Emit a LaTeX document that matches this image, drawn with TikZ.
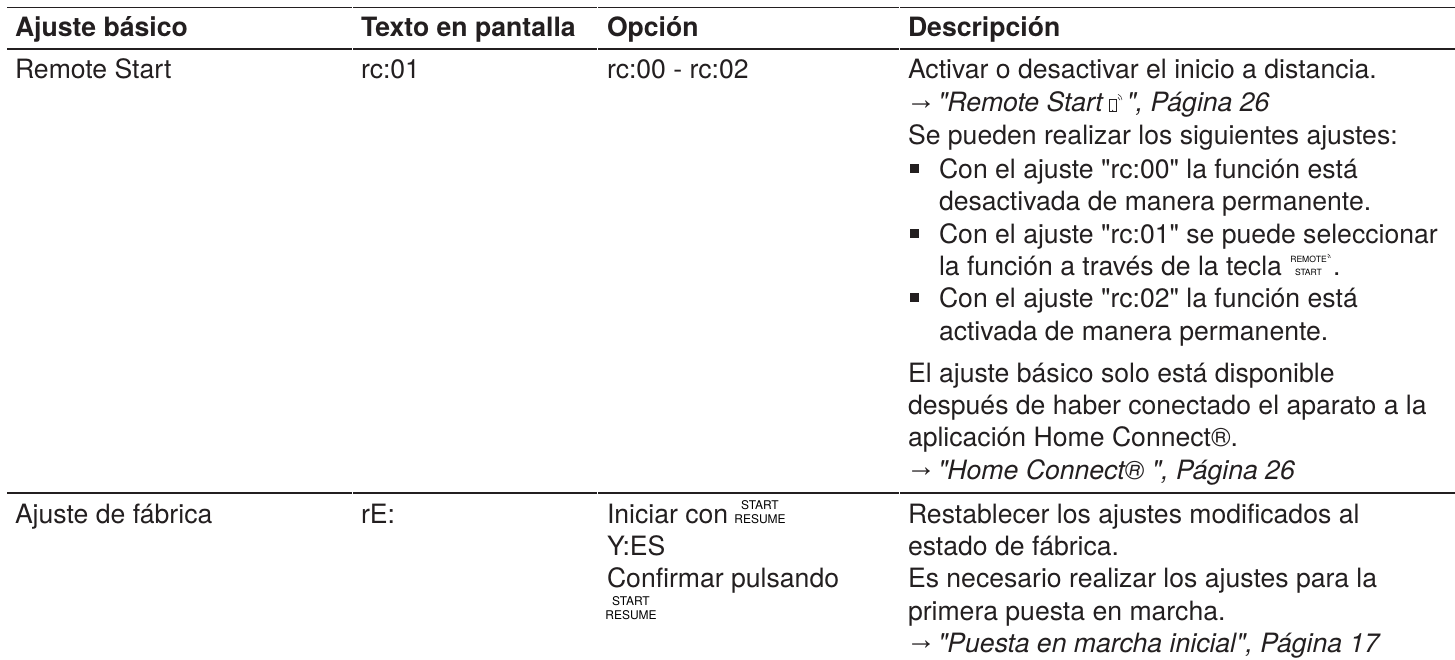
\documentclass[tikz,border=0pt]{standalone}
\usepackage{fontspec}
\setmainfont[Ligatures=TeXOff]{TeX Gyre Heros}
\newfontfamily\symf{Liberation Sans}
\definecolor{ink}{HTML}{231F20}
\newcommand{\txtsize}{\fontsize{26.6bp}{32bp}\selectfont}
\newcommand{\btnsize}{\fontsize{12bp}{12bp}\selectfont}
\newcommand{\arr}{\raisebox{2.5bp}{\upshape\symf\fontsize{30bp}{30bp}\selectfont →}}
\tikzset{
  x=1bp,y=-1bp,
  cell/.style={anchor=base west,inner sep=0pt,outer sep=0pt,text=ink,font=\txtsize},
  head/.style={cell,font=\txtsize\bfseries},
  link/.style={cell,font=\txtsize\itshape},
  rulel/.style={draw=ink,line width=1.3bp},
  toprule/.style={draw=ink,line width=1.9bp},
  tick/.style={draw=white,line width=0.5bp},
  btn/.style={anchor=center,inner sep=0pt,outer sep=0pt,text=black,font=\btnsize},
  kbtn/.style={btn,font=\fontsize{8.6bp}{8.6bp}\selectfont},
  bul/.style={fill=ink,minimum size=8.8bp,inner sep=0pt,outer sep=0pt,anchor=south west},
  icon/.style={draw=ink,line width=0.5bp},
}
\begin{document}
\begin{tikzpicture}
\useasboundingbox (0,0) rectangle (1455,660);
\fill[white] (0,0) rectangle (1455,660);
\coordinate (t1) at (7,7.5); \coordinate (t2) at (1455,7.5);
\coordinate (h1) at (7,49); \coordinate (h2) at (1455,49);
\coordinate (r1) at (7,493); \coordinate (r2) at (1455,493);
\draw[toprule] (t1)--(t2);
\draw[rulel] (h1)--(h2);
\draw[rulel] (r1)--(r2);
\foreach \cx in {352.5,597.5,899.5}{
  \draw[tick] (\cx,5) -- (\cx,10);
  \draw[tick] (\cx,47) -- (\cx,51);
  \draw[tick] (\cx,491) -- (\cx,495);
}
\node[head] (ha) at (15,37) {Ajuste básico};
\node[head] (hb) at (361,37) {Texto en pantalla};
\node[head] (hc) at (607,37) {Opción};
\node[head] (hd) at (908,37) {Descripción};
\node[cell] (a1) at (15,79) {Remote Start};
\node[cell] (b1) at (361,79) {rc:01};
\node[cell] (c1) at (607,79) {rc:00 - rc:02};
\node[cell] (d1) at (908,79) {Activar o desactivar el inicio a distancia.};
\node[cell] (d2) at (906,112) {\arr};
\node[link] (d2b) at (938,112) {"Remote Start};
\node[draw=ink,line width=0.7bp,inner sep=0pt,minimum width=7bp,minimum height=12bp,anchor=south west] (ph) at ([xshift=6bp]d2b.base east) {};
\fill[ink] ([yshift=1.6bp]ph.south) circle (0.6bp);
\draw[icon] ([xshift=1.5bp,yshift=2bp]ph.north east) arc (70:0:3bp);
\draw[icon] ([xshift=1.5bp,yshift=5bp]ph.north east) arc (70:0:6bp);
\node[link] (d2c) at ([xshift=10bp]ph.south east) {", Página 26};
\node[cell] (d3) at (908,145) {Se pueden realizar los siguientes ajustes:};
\node[bul] (b1x) at (910,173) {};
\node[cell] (d4) at (939,178) {Con el ajuste "rc:00" la función está};
\node[cell] (d5) at (939,210) {desactivada de manera permanente.};
\node[bul] (b2x) at (910,238) {};
\node[cell] (d6) at (939,243) {Con el ajuste "rc:01" se puede seleccionar};
\node[cell] (d7) at (939,275) {la función a través de la tecla};
\node[kbtn] (k1) at (1308.5,259) {REMOTE};
\node[kbtn] (k2) at (1308.5,272) {START};
\draw[icon] ([xshift=1bp,yshift=3bp]k1.east) arc (70:0:2bp);
\draw[icon] ([xshift=1bp,yshift=5bp]k1.east) arc (70:0:4bp);
\node[cell] (d7b) at (1333,275) {.};
\node[bul] (b3x) at (910,302) {};
\node[cell] (d8) at (939,307) {Con el ajuste "rc:02" la función está};
\node[cell] (d9) at (939,340) {activada de manera permanente.};
\node[cell] (d10) at (908,382) {El ajuste básico solo está disponible};
\node[cell] (d11) at (908,414) {después de haber conectado el aparato a la};
\node[cell] (d12) at (908,446) {aplicación Home Connect®.};
\node[cell] (d13) at (906,479) {\arr};
\node[link] (d13b) at (938,479) {"Home Connect® ", Página 26};
\node[cell] (a2) at (15,523) {Ajuste de fábrica};
\node[cell] (b2) at (361,523) {rE:};
\node[cell] (c2) at (607,523) {Iniciar con};
\node[btn] (s1) at (760,505) {START};
\node[btn] (s2) at (760,519) {RESUME};
\node[cell] (c3) at (607,555) {Y:ES};
\node[cell] (c4) at (607,587) {Confirmar pulsando};
\node[btn] (s3) at (631,601) {START};
\node[btn] (s4) at (631,615) {RESUME};
\node[cell] (d14) at (908,523) {Restablecer los ajustes modificados al};
\node[cell] (d15) at (908,555) {estado de fábrica.};
\node[cell] (d16) at (908,587) {Es necesario realizar los ajustes para la};
\node[cell] (d17) at (908,620) {primera puesta en marcha.};
\node[cell] (d18) at (906,652) {\arr};
\node[link] (d18b) at (938,652) {"Puesta en marcha inicial", Página 17};
\end{tikzpicture}
\end{document}
